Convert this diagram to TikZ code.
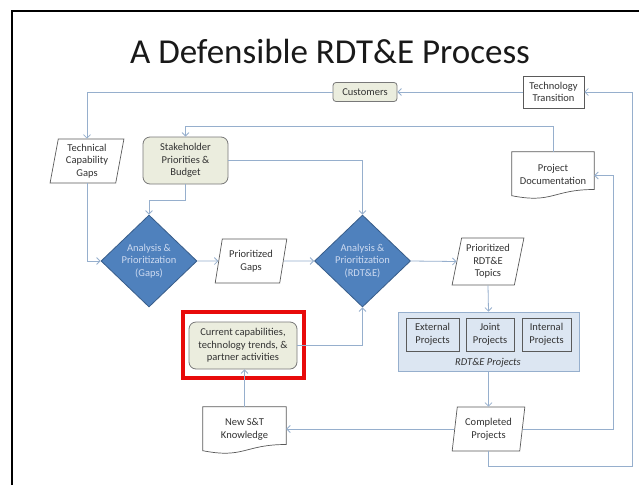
\documentclass[tikz,border=0pt]{standalone}
\usepackage{fontspec}
\setmainfont{Carlito}
\usetikzlibrary{shapes.geometric,arrows.meta,calc}
\definecolor{linec}{RGB}{150,175,205}
\definecolor{olivef}{RGB}{235,237,222}
\definecolor{grayb}{RGB}{120,120,120}
\definecolor{darkb}{RGB}{90,90,90}
\definecolor{dfill}{RGB}{79,129,189}
\definecolor{dborder}{RGB}{56,93,138}
\definecolor{dtext}{RGB}{205,218,240}
\definecolor{boxfill}{RGB}{220,230,242}
\definecolor{boxborder}{RGB}{150,175,205}
\definecolor{txt}{RGB}{50,50,50}
\definecolor{redf}{RGB}{232,10,10}
\tikzset{
  x=1pt, y=-1pt,
  every node/.style={font=\fontsize{10.5}{12.6}\selectfont, text=txt, align=center, inner sep=0pt},
  conn/.style={draw=linec, line width=0.8pt, -{Straight Barb[length=3.5pt,width=7pt]}},
  olivebox/.style={draw=grayb, fill=olivef, line width=0.8pt, rounded corners=#1},
  whitebox/.style={draw=darkb, fill=white, line width=0.7pt},
  para/.style={draw=darkb, fill=white, line width=0.7pt, trapezium, trapezium left angle=#1, trapezium right angle=180-#1, trapezium stretches=true},
  docnode/.style={draw=none},
  docline/.style={draw=darkb, fill=white, line width=0.7pt},
  dmd/.style={diamond, draw=dborder, fill=dfill, line width=0.8pt, text=dtext, minimum width=96pt, minimum height=92pt},
  subbox/.style={draw=darkb, fill=boxfill, line width=0.7pt, minimum height=33pt},
}
\newcommand{\docpath}[3]{%
  \draw[docline] (#1.north west) -- (#1.north east) -- ($(#1.north east)+(0,#3*0.802)$)
    .. controls ($(#1.north west)+(#2*0.5,#3*0.802)$) and ($(#1.north west)+(#2*0.5,#3*1.107)$)
    .. ($(#1.north west)+(0,#3*0.934)$) -- cycle;}
\begin{document}
\begin{tikzpicture}
\useasboundingbox (0,0) rectangle (639,485);
\fill[white] (0,0) rectangle (639,485);
\draw[black, line width=1.5pt] (12,485) -- (12,11) -- (639,11);

\node[font=\fontsize{35}{40}\selectfont, text=black!90] (title) at (330,51) {A Defensible RDT\&E Process};

% nodes
\node[olivebox=3pt, minimum width=64pt, minimum height=19pt] (cust) at (365,92) {Customers};
\node[whitebox, minimum width=61pt, minimum height=32pt] (tt) at (553.5,92) {Technology\\Transition};
\node[para=80, minimum width=74pt, minimum height=44pt] (tcg) at (87,161) {Technical\\Capability\\Gaps};
\node[olivebox=7pt, minimum width=85pt, minimum height=47pt] (stake) at (185.5,160.5) {Stakeholder\\Priorities \&\\Budget};
\node[docnode, minimum width=82pt, minimum height=47pt] (pd) at (553,175.5) {};
\docpath{pd}{82}{47}
\node at ($(pd.center)+(0,-1)$) {Project\\Documentation};

\node[dmd] (d1) at (149,261) {Analysis \&\\Prioritization\\(Gaps)};
\node[para=76, minimum width=72pt, minimum height=44pt] (pg) at (251,261) {Prioritized\\Gaps};
\node[dmd] (d2) at (362.5,261) {Analysis \&\\Prioritization\\(RDT\&E)};
\node[para=77, minimum width=72pt, minimum height=47pt] (prt) at (488,261.5) {Prioritized\\RDT\&E\\Topics};

\node[draw=boxborder, fill=boxfill, line width=0.8pt, minimum width=181pt, minimum height=59pt] (rp) at (488.5,341.5) {};
\node[subbox, minimum width=53pt] (ext) at (432.5,334.5) {External\\Projects};
\node[subbox, minimum width=48pt] (joint) at (490,334.5) {Joint\\Projects};
\node[subbox, minimum width=49pt] (int) at (546.5,334.5) {Internal\\Projects};
\node[font=\fontsize{10.5}{12}\selectfont\itshape] (rpl) at (488,362.5) {RDT\&E Projects};

\draw[redf, line width=4pt] (183,312) rectangle (304,378);
\node[olivebox=7pt, minimum width=108pt, minimum height=47pt] (cc) at (243,345.5) {Current capabilities,\\technology trends, \&\\partner activities};

\node[docnode, minimum width=83pt, minimum height=47pt] (nst) at (244.5,430.5) {};
\docpath{nst}{83}{47}
\node at ($(nst.center)+(0,-1)$) {New S\&T\\Knowledge};
\node[para=80, minimum width=73pt, minimum height=44pt] (cp) at (488.5,429) {Completed\\Projects};

% connectors
\draw[conn] (cust.west) -| (tcg.north);
\draw[conn] (tt.west) -- (cust.east);
\draw[conn] (cp.south) -- ++(0,15) -| ($(tt.east)+(48,0)$) -- (tt.east);
\draw[conn] (cp.east) -| ($(pd.east)+(19,0)$) -- (pd.east);
\draw[conn] (pd.north) -- ++(0,-25) -| (stake.north);
\draw[conn] (stake.east) -| (d2.north);
\draw[conn] (stake.south) -- ++(0,16) -| (d1.north);
\draw[conn] (tcg.south) |- (d1.west);
\draw[conn] (d1.east) -- (pg.west);
\draw[conn] (pg.east) -- (d2.west);
\draw[conn] (d2.east) -- (prt.west);
\draw[conn] (prt.south) -- (rp.north);
\draw[conn] (rp.south) -- (cp.north);
\draw[conn] (cp.west) -- (cp.west -| nst.east);
\draw[conn] (nst.north) -- (nst.north |- cc.south);
\draw[conn] (cc.east) -| (d2.south);
\end{tikzpicture}
\end{document}
